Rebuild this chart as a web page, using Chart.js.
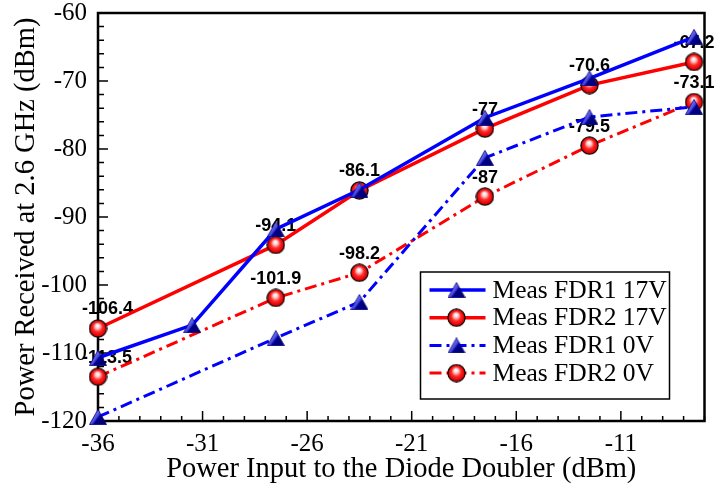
<!DOCTYPE html>
<html>
<head>
<meta charset="utf-8">
<script src="https://cdn.jsdelivr.net/npm/chart.js@4.4.1/dist/chart.umd.min.js"></script>
<style>
  html, body { margin: 0; padding: 0; background: #fff; }
</style>
</head>
<body>
<canvas id="powerChart" width="717" height="488"></canvas>
<script>
// power-received.js

const SERIF = '"Liberation Serif", "Times New Roman", serif';
const SANS = '"Liberation Sans", Arial, sans-serif';

// x ticks shown on the bottom axis
const xTickValues = [-36, -31, -26, -21, -16, -11];

// FDR1 17V has one extra point at -31.5
const fdr1OnX = [-36, -31.5, -27.5, -23.5, -17.5, -12.5, -7.5];
const fdr1OnY = [-110.7, -105.9, -91.8, -86.0, -75.4, -69.6, -63.5];

// the other three share the same inputs
const sharedX = [-36, -27.5, -23.5, -17.5, -12.5, -7.5];
const fdr2OnY = [-106.4, -94.1, -86.1, -77, -70.6, -67.2];
const fdr1OffY = [-119.4, -107.8, -102.5, -81.3, -75.3, -73.8];
const fdr2OffY = [-113.5, -101.9, -98.2, -87, -79.5, -73.1];

const seriesNames = ["Meas FDR1 17V", "Meas FDR2 17V", "Meas FDR1 0V", "Meas FDR2 0V"];

// shaded marker images, like the 3D symbols of the original plot
function makeTriangle() {
  const c = document.createElement("canvas");
  c.width = 18; c.height = 16;
  const g = c.getContext("2d");
  const grad = g.createLinearGradient(3, 4, 15, 13);
  grad.addColorStop(0, "#a0a0ff");
  grad.addColorStop(0.42, "#4848e0");
  grad.addColorStop(0.55, "#00008e");
  grad.addColorStop(1, "#000070");
  g.beginPath();
  g.moveTo(9, 0.5);
  g.lineTo(17.5, 15.5);
  g.lineTo(0.5, 15.5);
  g.closePath();
  g.fillStyle = grad;
  g.fill();
  g.strokeStyle = "#000080";
  g.lineWidth = 0.8;
  g.stroke();
  return c;
}

function makeBall() {
  const c = document.createElement("canvas");
  c.width = 19; c.height = 19;
  const g = c.getContext("2d");
  const grad = g.createRadialGradient(9, 6.5, 0.5, 9.5, 9.5, 9);
  grad.addColorStop(0, "#ffffff");
  grad.addColorStop(0.22, "#ffc8c8");
  grad.addColorStop(0.5, "#ff2a2a");
  grad.addColorStop(0.85, "#e00000");
  grad.addColorStop(1, "#9a0000");
  g.beginPath();
  g.arc(9.5, 9.5, 8.6, 0, Math.PI * 2);
  g.fillStyle = grad;
  g.fill();
  g.strokeStyle = "#000";
  g.lineWidth = 1.2;
  g.stroke();
  return c;
}

const triangle = makeTriangle();
const ball = makeBall();

const toPoints = (xs, ys) => xs.map((x, i) => ({ x, y: ys[i] }));

function series(label, xs, ys, color, marker, dashed) {
  return {
    label,
    data: toPoints(xs, ys),
    borderColor: color,
    backgroundColor: color,
    borderWidth: dashed ? 3 : 3.5,
    borderDash: dashed ? [12, 5, 3, 5] : [],
    pointStyle: marker,
    pointRadius: 9,
    tension: 0,
    clip: false
  };
}

// frame + inward ticks
const frameTicks = {
  id: "frameTicks",
  beforeDatasetsDraw(chart) {
    const { ctx, chartArea: a, scales } = chart;
    const xs = scales.x, ys = scales.y;
    ctx.save();
    ctx.strokeStyle = "#000";
    ctx.lineWidth = 1.5;
    ctx.beginPath();
    for (let v = xs.min; v <= xs.max; v++) {
      const px = xs.getPixelForValue(v);
      const len = xTickValues.includes(v) ? 10 : 5;
      ctx.moveTo(px, a.bottom);
      ctx.lineTo(px, a.bottom - len);
    }
    for (let v = ys.min; v <= ys.max; v += 2) {
      const py = ys.getPixelForValue(v);
      const len = v % 10 === 0 ? 10 : 6;
      ctx.moveTo(a.left, py);
      ctx.lineTo(a.left + len, py);
    }
    ctx.stroke();
    ctx.lineWidth = 2.5;
    ctx.strokeRect(a.left, a.top, a.right - a.left, a.bottom - a.top);
    ctx.restore();
  }
};

// value labels above the FDR2 circles (drawn under the marks)
const valueLabels = {
  id: "valueLabels",
  beforeDatasetsDraw(chart) {
    const { ctx } = chart;
    ctx.save();
    ctx.font = "bold 18px " + SANS;
    ctx.fillStyle = "#000";
    ctx.textBaseline = "middle";
    ctx.textAlign = "center";
    [1, 3].forEach(di => {
      const meta = chart.getDatasetMeta(di);
      chart.data.datasets[di].data.forEach((d, j) => {
        const el = meta.data[j];
        const txt = String(d.y);
        const w = ctx.measureText(txt).width;
        const cx = Math.max(el.x, 82 + w / 2);
        ctx.fillText(txt, cx, el.y - 19);
      });
    });
    ctx.restore();
  }
};

// boxed legend inside the plot, lower right
const boxLegend = {
  id: "boxLegend",
  afterDraw(chart) {
    const { ctx, chartArea: a } = chart;
    const w = 249, h = 127;
    const left = a.right - 35 - w, top = a.bottom - 22 - h;
    ctx.save();
    ctx.fillStyle = "#fff";
    ctx.fillRect(left, top, w, h);
    ctx.strokeStyle = "#000";
    ctx.lineWidth = 1.5;
    ctx.strokeRect(left, top, w, h);
    ctx.font = "25.5px " + SERIF;
    ctx.textBaseline = "middle";
    chart.data.datasets.forEach((ds, i) => {
      const y = top + 18 + i * 27.7;
      ctx.beginPath();
      ctx.setLineDash(ds.borderDash);
      ctx.strokeStyle = ds.borderColor;
      ctx.lineWidth = ds.borderWidth;
      ctx.moveTo(left + 9, y);
      ctx.lineTo(left + 65, y);
      ctx.stroke();
      ctx.setLineDash([]);
      const img = ds.pointStyle;
      ctx.drawImage(img, left + 36 - img.width / 2, y - img.height / 2);
      ctx.fillStyle = "#000";
      ctx.fillText(ds.label, left + 72, y + 1);
    });
    ctx.restore();
  }
};

new Chart(document.getElementById("powerChart").getContext("2d"), {
  type: "line",
  data: {
    datasets: [
      series(seriesNames[0], fdr1OnX, fdr1OnY, "#0000ff", triangle, false),
      series(seriesNames[1], sharedX, fdr2OnY, "#ff0000", ball, false),
      series(seriesNames[2], sharedX, fdr1OffY, "#0000ff", triangle, true),
      series(seriesNames[3], sharedX, fdr2OffY, "#ff0000", ball, true)
    ]
  },
  options: {
    responsive: false,
    animation: false,
    layout: { padding: { top: 13, right: 10, left: 0, bottom: 0 } },
    plugins: {
      legend: { display: false },
      tooltip: { enabled: false }
    },
    scales: {
      x: {
        type: "linear",
        position: "bottom",
        min: -36,
        max: -7,
        afterBuildTicks: scale => { scale.ticks = xTickValues.map(v => ({ value: v })); },
        afterFit: scale => { scale.height = 67; scale.paddingLeft = 0; scale.paddingRight = 0; },
        grid: { display: false, drawTicks: false },
        border: { display: false },
        ticks: { color: "#000", font: { family: SERIF, size: 25 }, padding: 8, maxRotation: 0 },
        title: {
          display: true,
          text: "Power Input to the Diode Doubler (dBm)",
          color: "#000",
          font: { family: SERIF, size: 28.5, lineHeight: 1.2 },
          padding: { top: 0, bottom: 1 }
        }
      },
      y: {
        min: -120,
        max: -60,
        afterFit: scale => { scale.width = 98; scale.paddingTop = 0; scale.paddingBottom = 0; },
        grid: { display: false, drawTicks: false },
        border: { display: false },
        ticks: { stepSize: 10, color: "#000", font: { family: SERIF, size: 25 }, padding: 11 },
        title: {
          display: true,
          text: "Power Received at 2.6 GHz (dBm)",
          color: "#000",
          font: { family: SERIF, size: 28.5, lineHeight: 1.2 },
          padding: { top: 9, bottom: 0 }
        }
      }
    }
  },
  plugins: [frameTicks, valueLabels, boxLegend]
});
</script>
</body>
</html>
